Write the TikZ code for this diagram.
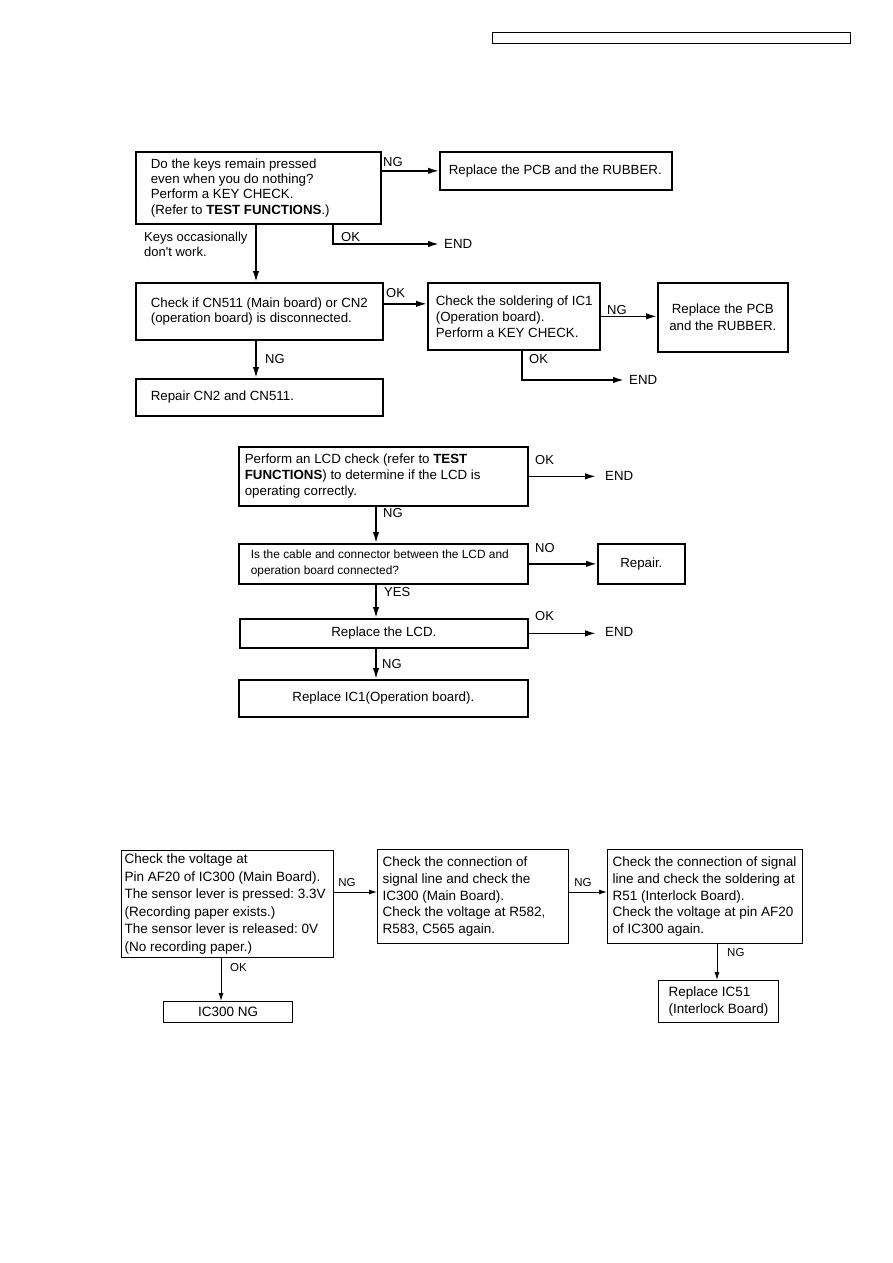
\documentclass[tikz,border=0pt]{standalone}
\usepackage{fontspec}
\setmainfont{Liberation Sans}
\usetikzlibrary{arrows.meta}
\newcommand\lbox[3]{\makebox[#2][l]{\hspace*{#1}\parbox{\dimexpr#2-#1\relax}{\raggedright\hyphenpenalty=10000 #3}}}
\begin{document}
\frenchspacing
\begin{tikzpicture}[x=1pt,y=-1pt,
  bx/.style={draw, line width=1.7pt, anchor=north west, inner sep=0pt},
  bxs/.style={draw, line width=1.3pt, anchor=north west, inner sep=0pt},
  arr/.style={line width=1.7pt, -{Latex[length=11pt,width=6.5pt]}},
  arrs/.style={line width=0.9pt, -{Latex[length=8pt,width=5pt]}},
  lbl/.style={inner sep=0pt, anchor=west, font=\fontsize{13}{15}\selectfont},
  lbls/.style={inner sep=0pt, font=\fontsize{11.5}{13}\selectfont},
  tx/.style={font=\fontsize{13.3}{15.3}\selectfont}
]
\useasboundingbox (0,0) rectangle (893,1263);
\fill[white] (0,0) rectangle (893,1263);
% header box
\node[draw, line width=1.2pt, anchor=north west, minimum width=358pt, minimum height=11pt, inner sep=0pt] (hdr) at (492,32) {};

% ---------- chart 1 ----------
\node[bx, tx, minimum width=245pt, minimum height=72pt] (A) at (135,151)
 {\lbox{15pt}{245pt}{Do the keys remain pressed\\even when you do nothing?\\Perform a KEY CHECK.\\(Refer to \textbf{TEST FUNCTIONS}.)}};
\node[bx, tx, minimum width=232pt, minimum height=38pt] (P1) at (439,151)
 {\lbox{9pt}{232pt}{Replace the PCB and the RUBBER.}};
\node[bx, tx, minimum width=247pt, minimum height=57pt] (B) at (135,282)
 {\lbox{15pt}{247pt}{Check if CN511 (Main board) or CN2\\(operation board) is disconnected.}};
\node[bx, minimum width=172pt, minimum height=67pt, font=\fontsize{13.3}{16}\selectfont] (C) at (427,282)
 {\lbox{8pt}{172pt}{Check the soldering of IC1\\(Operation board).\\Perform a KEY CHECK.}};
\node[bx, minimum width=130pt, minimum height=69pt, align=center, font=\fontsize{13.3}{17}\selectfont] (D) at (657,282)
 {Replace the PCB\\and the RUBBER.};
\node[bx, tx, minimum width=247pt, minimum height=37pt] (E) at (135,378)
 {\lbox{15pt}{247pt}{Repair CN2 and CN511.}};

\node[lbl] (ng1) at (383,162) {NG};
\node[lbl] (ok1) at (341,237) {OK};
\node[inner sep=0pt, anchor=west, align=left, font=\fontsize{13}{15.3}\selectfont] (keys) at (144,244.5) {Keys occasionally\\don\textquotesingle t work.};
\node[lbl, tx] (end1) at (444,244) {END};
\node[lbl] (ok2) at (386,293) {OK};
\node[lbl] (ng2) at (607,310) {NG};
\node[lbl] (ok3) at (529,359) {OK};
\node[lbl, tx] (end2) at (629,380) {END};
\node[lbl] (ng3) at (265,359) {NG};

\draw[arr] (A.east |- P1.west) -- (P1.west);
\draw[arr] ([xshift=198pt]A.south west) |- ([xshift=-5pt]end1.west);
\draw[arr] ([xshift=121pt]A.south west) -- ([xshift=121pt]B.north west);
\draw[arr] ([yshift=7.5pt]B.east) -- ([yshift=7.5pt]B.east -| C.west);
\draw[arr] (C.east) -- (C.east -| D.west);
\draw[arr] ([xshift=95pt]C.south west) |- ([xshift=-5pt]end2.west);
\draw[arr] ([xshift=121pt]B.south west) -- ([xshift=121pt]E.north west);

% ---------- chart 2 ----------
\node[bx, minimum width=289pt, minimum height=59pt, font=\fontsize{13.3}{16}\selectfont] (F) at (238,446)
 {\lbox{6pt}{289pt}{Perform an LCD check (refer to \textbf{TEST}\\\textbf{FUNCTIONS}) to determine if the LCD is\\operating correctly.}};
\node[bx, minimum width=289pt, minimum height=40pt, font=\fontsize{11.9}{16}\selectfont] (G) at (238,543)
 {\lbox{12pt}{289pt}{Is the cable and connector between the LCD and\\operation board connected?}};
\node[bx, tx, minimum width=87pt, minimum height=40pt] (H) at (597,543)
 {Repair.};
\node[bx, tx, minimum width=288pt, minimum height=29pt] (I) at (239,618)
 {Replace the LCD.};
\node[bx, tx, minimum width=289pt, minimum height=37pt] (J) at (238,679)
 {Replace IC1(Operation board).};

\node[lbl] (ok4) at (535,460) {OK};
\node[lbl, tx] (end3) at (605,476) {END};
\node[lbl] (ng4) at (383,513) {NG};
\node[lbl] (no1) at (535,548) {NO};
\node[lbl] (yes1) at (384,592) {YES};
\node[lbl] (ok5) at (535,616) {OK};
\node[lbl, tx] (end4) at (605,632) {END};
\node[lbl] (ng5) at (382,664) {NG};

\draw[arr] (F.east) -- ([xshift=-9pt]end3.west |- F.east);
\draw[arr] ([xshift=138pt]F.south west) -- ([xshift=138pt]G.north west);
\draw[arr] (G.east) -- (G.east -| H.west);
\draw[arr] ([xshift=138pt]G.south west) -- ([xshift=137pt]I.north west);
\draw[arr] (I.east) -- ([xshift=-9pt]end4.west |- I.east);
\draw[arr] ([xshift=137pt]I.south west) -- ([xshift=138pt]J.north west);

% ---------- chart 3 ----------
\coordinate (yr) at (0,892);
\node[bxs, minimum width=212pt, minimum height=107pt, font=\fontsize{13.5}{17.5}\selectfont] (K) at (121,850)
 {\lbox{3pt}{212pt}{Check the voltage at\\Pin AF20 of IC300 (Main Board).\\The sensor lever is pressed: 3.3V\\(Recording paper exists.)\\The sensor lever is released: 0V\\(No recording paper.)}};
\node[bxs, minimum width=191pt, minimum height=94pt, font=\fontsize{13.5}{16.8}\selectfont] (L) at (377,849)
 {\lbox{5pt}{191pt}{Check the connection of\\signal line and check the\\IC300 (Main Board).\\Check the voltage at R582,\\R583, C565 again.}};
\node[bxs, minimum width=195pt, minimum height=94pt, font=\fontsize{13.5}{16.8}\selectfont] (M) at (607,849)
 {\lbox{5pt}{195pt}{Check the connection of signal\\line and check the soldering at\\R51 (Interlock Board).\\Check the voltage at pin AF20\\of IC300 again.}};
\node[bxs, minimum width=120pt, minimum height=42pt, font=\fontsize{13.5}{17}\selectfont] (N) at (658,980)
 {\lbox{10pt}{120pt}{Replace IC51\\(Interlock Board)}};
\node[bxs, minimum width=129pt, minimum height=21pt, font=\fontsize{13.5}{15}\selectfont] (O) at (163,1001)
 {IC300 NG};

\node[lbls] (ng6) at (347,883) {NG};
\node[lbls] (ng7) at (583,883) {NG};
\node[lbls, anchor=west] (ng8) at (727,953) {NG};
\node[lbls, anchor=west] (ok6) at (230,968) {OK};

\draw[arrs] (K.east |- yr) -- (L.west |- yr);
\draw[arrs] (L.east |- yr) -- (M.west |- yr);
\draw[arrs] ([xshift=110pt]M.south west) -- ([xshift=59pt]N.north west);
\draw[arrs] ([xshift=100pt]K.south west) -- ([xshift=58pt]O.north west);
\end{tikzpicture}
\end{document}
